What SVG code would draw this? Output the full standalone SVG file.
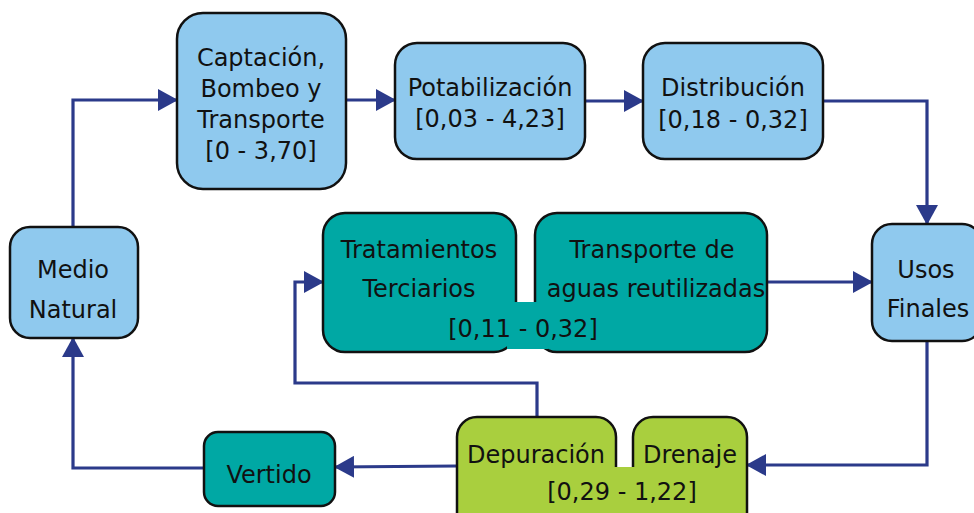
<svg xmlns="http://www.w3.org/2000/svg" width="974" height="513" viewBox="0 0 974 513">
<defs>
<marker id="arr" viewBox="0 0 20 22" refX="19" refY="11" markerWidth="20" markerHeight="22" markerUnits="userSpaceOnUse" orient="auto">
<path d="M0,0 L20,11 L0,22 z" fill="#2B3A8A"/>
</marker>
<style>
.blue{fill:#8FC9EE;stroke:#111;stroke-width:2.5}
.teal{fill:#00A8A4;stroke:#111;stroke-width:2.5}
.green{fill:#A9CF3E;stroke:#111;stroke-width:2.5}
text{font-family:"DejaVu Sans","Liberation Sans",sans-serif;font-size:24px;fill:#111;text-anchor:middle}
.c{fill:none;stroke:#2B3A8A;stroke-width:3.2}
</style>
</defs>
<g id="connectors">
<polyline class="c" points="73,227 73,100 177,100" marker-end="url(#arr)"/>
<line class="c" x1="346" y1="100" x2="395" y2="100" marker-end="url(#arr)"/>
<line class="c" x1="585" y1="101" x2="643" y2="101" marker-end="url(#arr)"/>
<polyline class="c" points="823,101 927,101 927,224" marker-end="url(#arr)"/>
<line class="c" x1="767" y1="282" x2="872" y2="282" marker-end="url(#arr)"/>
<polyline class="c" points="927,341 927,465 747,465" marker-end="url(#arr)"/>
<polyline class="c" points="537,417 537,383 295,383 295,282 323,282" marker-end="url(#arr)"/>
<line class="c" x1="457" y1="466" x2="335" y2="467" marker-end="url(#arr)"/>
<polyline class="c" points="204,468 73,468 73,338" marker-end="url(#arr)"/>
</g>
<g id="captacion">
<rect class="blue" x="177" y="13" width="169" height="176" rx="26"/>
<text x="261" y="66">Captación,</text>
<text x="261" y="97">Bombeo y</text>
<text x="261" y="128">Transporte</text>
<text x="261" y="159">[0 - 3,70]</text>
</g>
<g id="potabilizacion">
<rect class="blue" x="395" y="43" width="190" height="116" rx="22"/>
<text x="490" y="96">Potabilización</text>
<text x="490" y="127">[0,03 - 4,23]</text>
</g>
<g id="distribucion">
<rect class="blue" x="643" y="43" width="180" height="116" rx="22"/>
<text x="733" y="96">Distribución</text>
<text x="733" y="128">[0,18 - 0,32]</text>
</g>
<g id="usos">
<rect class="blue" x="872" y="224" width="110" height="117" rx="20"/>
<text x="926" y="278">Usos</text>
<text x="928" y="317">Finales</text>
</g>
<g id="medio">
<rect class="blue" x="10" y="227" width="128" height="111" rx="20"/>
<text x="73" y="278">Medio</text>
<text x="73" y="318">Natural</text>
</g>
<g id="reutilizacion">
<rect class="teal" x="323" y="213" width="193" height="139" rx="22"/>
<rect class="teal" x="535" y="213" width="232" height="139" rx="22"/>
<rect x="507" y="302" width="41" height="47" fill="#00A8A4"/>
<text x="419" y="258">Tratamientos</text>
<text x="419" y="297">Terciarios</text>
<text x="652" y="258">Transporte de</text>
<text x="656" y="297">aguas reutilizadas</text>
<text x="523" y="337">[0,11 - 0,32]</text>
</g>
<g id="depuracion">
<rect class="green" x="457" y="417" width="159" height="120" rx="20"/>
<rect class="green" x="633" y="417" width="114" height="120" rx="20"/>
<rect x="614" y="467" width="21" height="50" fill="#A9CF3E"/>
<text x="536" y="463">Depuración</text>
<text x="690" y="463">Drenaje</text>
<text x="622" y="500">[0,29 - 1,22]</text>
</g>
<g id="vertido">
<rect class="teal" x="204" y="432" width="131" height="74" rx="14"/>
<text x="269" y="483">Vertido</text>
</g>
</svg>
